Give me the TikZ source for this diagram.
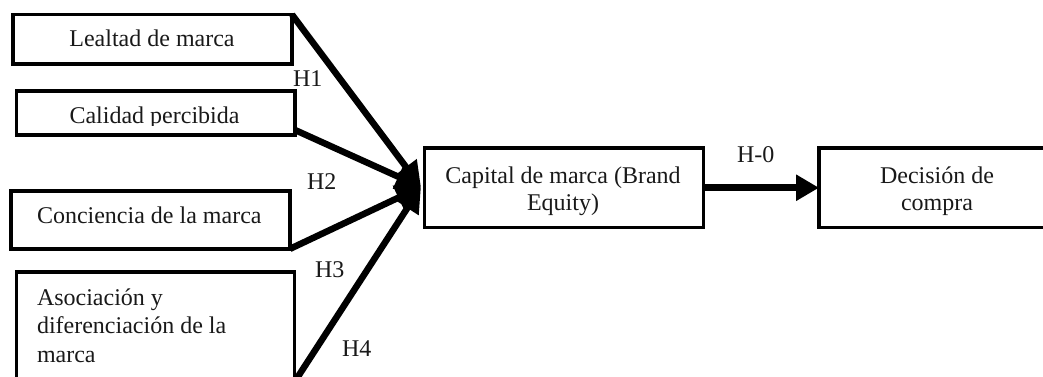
\documentclass[tikz,border=0pt]{standalone}
\usepackage{fontspec}
\setmainfont{Liberation Serif}
\usetikzlibrary{arrows.meta}
\begin{document}
\begin{tikzpicture}[x=1pt,y=-1pt,
  boxnode/.style={draw,line width=3.6pt,rectangle,inner sep=0pt,outer sep=0pt},
  txt/.style={inner sep=0pt,outer sep=0pt,font=\fontsize{24}{28}\selectfont,text=black!90},
  conn/.style={line width=6.5pt,-{Triangle[length=25pt,width=25pt]}},
  hlabel/.style={txt,anchor=base west}]
\useasboundingbox (0,0) rectangle (1043,377);
\clip (0,0) rectangle (1043,377);
% boxes
\node[boxnode,minimum width=279pt,minimum height=49.3pt] (b1) at (152.5,39.3) {};
\node[boxnode,minimum width=278.5pt,minimum height=44pt] (b2) at (155.75,113) {};
\node[boxnode,minimum width=279pt,minimum height=57.7pt] (b3) at (150.5,220) {};
\node[boxnode,minimum width=278pt,minimum height=118pt] (b4) at (155.5,331) {};
\node[boxnode,minimum width=279pt,minimum height=79.5pt] (cap) at (564,187.75) {};
\node[boxnode,minimum width=236pt,minimum height=79.5pt] (dec) at (937,187.75) {};
% texts
\node[txt,anchor=base] (t1) at (152,47) {Lealtad de marca};
\begin{scope}
\clip (20,95) rectangle (290,125.5);
\node[txt,anchor=base] (t2) at (154.5,124) {Calidad percibida};
\end{scope}
\node[txt,anchor=base west] (t3) at (37,223) {Conciencia de la marca};
\node[txt,anchor=base west] (t4a) at (37,305) {Asociación y};
\node[txt,anchor=base west] (t4b) at (37,333) {diferenciación de la};
\node[txt,anchor=base west] (t4c) at (37,362) {marca};
\node[txt,anchor=base] (t5a) at (563,183) {Capital de marca (Brand};
\node[txt,anchor=base] (t5b) at (563,210) {Equity)};
\node[txt,anchor=base] (t6a) at (937,183) {Decisión de};
\node[txt,anchor=base] (t6b) at (937,210) {compra};
% connectors
\coordinate (tip) at (421,187);
\draw[conn] (b1.north east) -- (tip);
\draw[conn] ([yshift=5pt]b2.south east) -- (tip);
\draw[conn] (b3.south east) -- (tip);
\draw[conn] ([yshift=8pt]b4.south east) -- (tip);
\draw[line width=7pt,-{Triangle[length=23pt,width=25pt]}] (cap.east) -- (dec.west);
% labels
\node[hlabel] (h1) at (293,87) {H1};
\node[hlabel] (h2) at (307,189) {H2};
\node[hlabel] (h3) at (315,277) {H3};
\node[hlabel] (h4) at (342,356) {H4};
\node[hlabel] (h0) at (737,162) {H-0};
\end{tikzpicture}
\end{document}
